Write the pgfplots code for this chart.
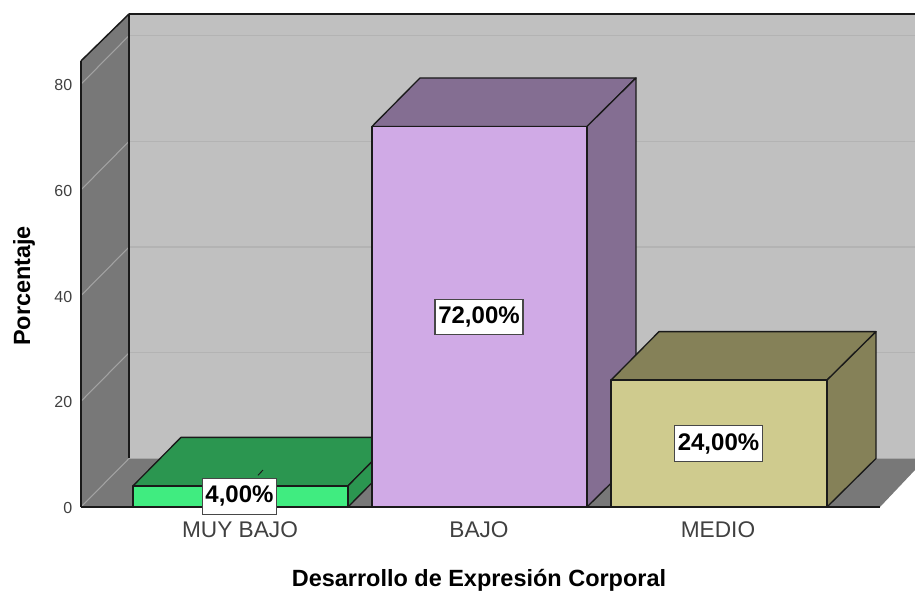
\documentclass[border=0pt]{standalone}
\usepackage{fontspec}
\setmainfont{Liberation Sans}
\usepackage{pgfplots}
\pgfplotsset{compat=1.18}
\definecolor{backwall}{HTML}{C0C0C0}
\definecolor{sidewall}{HTML}{787878}
\definecolor{gridback}{HTML}{B3B3B3}
\definecolor{gridside}{HTML}{A2A2A2}
\definecolor{gfront}{HTML}{40EC80}
\definecolor{gdark}{HTML}{2B9650}
\definecolor{pfront}{HTML}{D0AAE6}
\definecolor{pdark}{HTML}{846E92}
\definecolor{yfront}{HTML}{CFCB8E}
\definecolor{ydark}{HTML}{858158}
\definecolor{edge}{HTML}{1A1A1A}
\definecolor{tickc}{HTML}{404040}
\begin{document}
\begin{tikzpicture}[x=1pt,y=1pt]
\path[use as bounding box] (-60.75pt,-62.25pt) rectangle (625.5pt,380.25pt);
\begin{axis}[
  at={(0pt,0pt)}, anchor=south west,
  scale only axis, width=625.5pt, height=369.75pt,
  xmin=81, xmax=915, ymin=0, ymax=93.28,
  clip=false,
  axis line style={draw=none},
  tick style={draw=none},
  xtick={240,479,718},
  xticklabels={MUY BAJO,BAJO,MEDIO},
  ytick={0,20,40,60,80},
  /pgf/number format/assume math mode=true,
  yticklabel style={font=\fontsize{12}{13}\selectfont, text=tickc, xshift=-3pt, yshift=-0.7pt},
  xticklabel style={font=\fontsize{17}{19}\selectfont, text=tickc, yshift=-7.5pt},
  xlabel={Desarrollo de Expresión Corporal},
  ylabel={Porcentaje},
  xlabel style={font=\fontsize{17.6}{20}\selectfont\bfseries, at={(axis description cs:0.4772,-0.148)}, anchor=center},
  ylabel style={font=\fontsize{17.6}{20}\selectfont\bfseries, at={(axis description cs:-0.0683,0.4483)}, anchor=center, rotate=0},
]
% walls and floor
\addplot[fill=backwall,draw=none] coordinates {(129,9.18)(129,93.28)(915,93.28)(915,9.18)} -- cycle;
\addplot[fill=sidewall,draw=none] coordinates {(81,0)(81,84.4)(129,93.28)(129,9.18)} -- cycle;
\addplot[fill=sidewall,draw=none] coordinates {(81,0)(129,9.18)(915,9.18)(915,7)(880,0)} -- cycle;
% grid lines
\addplot[gridback,line width=1pt] coordinates {(129,29.18)(915,29.18)};
\addplot[gridback,line width=1pt] coordinates {(129,49.18)(915,49.18)};
\addplot[gridback,line width=1pt] coordinates {(129,69.18)(915,69.18)};
\addplot[gridback,line width=1pt] coordinates {(129,89.18)(915,89.18)};
\addplot[gridside,line width=0.8pt] coordinates {(81,0)(129,9.18)};
\addplot[gridside,line width=0.8pt] coordinates {(81,20)(129,29.18)};
\addplot[gridside,line width=0.8pt] coordinates {(81,40)(129,49.18)};
\addplot[gridside,line width=0.8pt] coordinates {(81,60)(129,69.18)};
\addplot[gridside,line width=0.8pt] coordinates {(81,80)(129,89.18)};
% wall outlines
\addplot[edge,line width=1.3pt] coordinates {(129,9.18)(129,93.28)};
\addplot[edge,line width=1.1pt] coordinates {(129,93.28)(915,93.28)};
\addplot[edge,line width=1.1pt] coordinates {(81,84.4)(129,93.28)};
\addplot[edge,line width=1.3pt] coordinates {(81,0)(81,84.4)};
% bar MUY BAJO = 4
\addplot[fill=gdark,draw=edge,line width=1pt,line join=round] coordinates {(133,4)(181,13.18)(396,13.18)(348,4)} -- cycle;
\addplot[fill=gdark,draw=edge,line width=1pt,line join=round] coordinates {(348,0)(396,9.18)(396,13.18)(348,4)} -- cycle;
\addplot[fill=gfront,draw=edge,line width=1pt,line join=round] coordinates {(133,0)(133,4)(348,4)(348,0)} -- cycle;
\addplot[edge,line width=0.7pt] coordinates {(258,6)(263,7.0)};
% bar BAJO = 72
\addplot[fill=pdark,draw=edge,line width=1pt,line join=round] coordinates {(372,72)(420,81.18)(636,81.18)(587,72)} -- cycle;
\addplot[fill=pdark,draw=edge,line width=1pt,line join=round] coordinates {(587,0)(636,9.18)(636,81.18)(587,72)} -- cycle;
\addplot[fill=pfront,draw=edge,line width=1pt,line join=round] coordinates {(372,0)(372,72)(587,72)(587,0)} -- cycle;
% bar MEDIO = 24
\addplot[fill=ydark,draw=edge,line width=1pt,line join=round] coordinates {(611,24)(659,33.18)(876,33.18)(827,24)} -- cycle;
\addplot[fill=ydark,draw=edge,line width=1pt,line join=round] coordinates {(827,0)(876,9.18)(876,33.18)(827,24)} -- cycle;
\addplot[fill=yfront,draw=edge,line width=1pt,line join=round] coordinates {(611,0)(611,24)(827,24)(827,0)} -- cycle;
% base line
\addplot[edge,line width=1.2pt] coordinates {(81,0)(880,0)};
% value labels
\tikzset{vlab/.style={fill=white,draw=black!72,line width=0.8pt,inner sep=0pt,minimum height=26.5pt,font=\fontsize{18}{20}\selectfont\bfseries,text=black}}
\node[vlab,minimum width=56pt] at (axis cs:239.5,2) {\raisebox{-1pt}{4,00\%}};
\node[vlab,minimum width=66pt] at (axis cs:479,36) {\raisebox{-1pt}{72,00\%}};
\node[vlab,minimum width=66pt] at (axis cs:718.5,12) {\raisebox{-1pt}{24,00\%}};
\end{axis}
\end{tikzpicture}
\end{document}
